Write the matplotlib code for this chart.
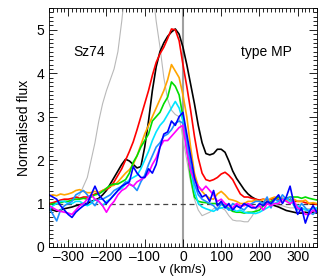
import numpy as np
import matplotlib
matplotlib.use("Agg")
import matplotlib.pyplot as plt
from matplotlib.ticker import MultipleLocator, FuncFormatter

v = list(range(-350, 351, 10))

black = [0.85,0.85,0.82,0.85,0.88,0.9,0.92,0.95,0.97,1.0,1.0,1.05,1.08,1.12,1.2,1.3,1.45,1.6,1.75,1.9,
         2.02,1.98,1.9,1.82,1.85,2.3,2.9,3.6,4.15,4.5,4.7,4.85,4.95,5.02,4.9,4.6,4.2,3.75,3.3,2.8,
         2.4,2.15,2.12,2.15,2.25,2.25,2.18,1.98,1.75,1.58,1.45,1.32,1.22,1.15,1.1,1.06,1.03,1.0,0.98,0.95,
         0.92,0.88,0.84,0.82,0.8,0.78,0.78,0.8,0.78,0.8,0.78]
red = [1.0,1.02,1.05,1.08,1.1,1.1,1.12,1.15,1.12,1.15,1.15,1.18,1.22,1.25,1.3,1.32,1.38,1.5,1.65,1.8,
       2.0,2.2,2.42,2.7,3.0,3.3,3.6,3.95,4.25,4.45,4.6,4.8,5.02,5.0,4.75,4.2,3.7,3.15,2.55,2.05,
       1.7,1.55,1.52,1.55,1.6,1.68,1.72,1.65,1.55,1.38,1.22,1.15,1.15,1.12,1.1,1.08,1.1,1.08,1.1,1.12,
       1.1,1.12,1.1,1.08,1.05,1.05,1.05,1.02,1.0,1.0,0.98]
orange = [1.18,1.2,1.18,1.22,1.2,1.22,1.25,1.3,1.32,1.28,1.25,1.25,1.28,1.25,1.3,1.35,1.4,1.42,1.5,1.6,
          1.7,1.78,1.9,2.1,2.35,2.6,2.8,3.0,3.2,3.4,3.6,3.85,4.2,4.05,3.9,3.5,3.0,2.3,1.7,1.4,
          1.28,1.18,1.12,1.1,1.22,1.28,1.2,1.1,1.08,1.05,1.0,1.0,1.05,1.05,1.08,1.05,1.1,1.05,1.12,1.15,
          1.12,1.1,1.08,1.05,1.1,1.05,1.05,1.08,1.0,1.02,1.0]
green = [0.97,1.0,1.0,1.02,1.05,1.05,1.08,1.1,1.1,1.12,1.1,1.15,1.2,1.22,1.28,1.35,1.42,1.45,1.45,1.5,
         1.55,1.7,1.95,2.1,2.3,2.45,2.6,2.9,3.0,3.1,3.3,3.45,3.8,3.7,3.5,3.0,2.3,1.6,1.15,1.05,
         1.03,1.02,1.0,1.0,1.0,0.98,0.95,0.88,0.82,0.8,0.8,0.78,0.8,0.8,0.82,0.85,0.95,1.0,1.05,1.1,
         1.15,1.1,1.12,1.15,1.15,1.15,1.12,1.15,1.12,1.1,1.08]
cyan = [0.85,0.95,1.0,1.05,1.05,1.0,1.0,1.05,1.05,1.0,0.95,1.0,1.1,1.05,0.95,1.05,1.1,1.2,1.3,1.35,
        1.45,1.55,1.6,1.65,1.8,2.0,2.2,2.45,2.65,2.8,2.9,3.05,3.2,3.35,3.2,2.9,2.4,1.8,1.3,1.0,
        0.92,0.88,0.85,0.82,0.88,0.9,0.92,0.85,0.88,0.82,0.85,0.8,0.78,0.78,0.77,0.8,0.85,0.9,0.95,1.0,
        1.05,1.1,1.12,1.05,1.0,0.95,0.9,0.85,0.85,0.88,0.9]
dodger = [0.9,0.75,0.6,0.85,0.95,1.0,1.05,1.2,1.25,1.3,1.2,1.05,0.95,1.1,1.1,1.15,1.2,1.3,1.35,1.4,
          1.5,1.45,1.4,1.3,1.5,1.65,1.9,2.1,2.3,2.4,2.55,2.6,2.7,2.85,2.9,2.85,2.5,1.9,1.45,1.2,
          1.1,1.05,1.0,0.95,0.85,1.0,0.95,0.85,1.0,0.95,0.9,0.85,0.95,1.0,1.05,1.05,1.0,1.15,0.9,1.1,
          1.05,1.2,1.1,1.15,0.95,0.85,1.0,0.9,0.8,0.75,0.85]
blue = [1.2,1.15,1.1,0.95,0.85,0.75,0.68,0.8,0.88,0.95,1.0,1.2,1.4,1.2,1.1,1.0,1.1,1.2,1.3,1.4,
        1.45,1.5,1.85,1.7,1.6,1.6,1.8,1.7,1.9,2.3,2.6,2.65,2.9,2.8,3.0,3.1,2.6,2.1,1.6,1.3,
        1.15,1.2,1.05,1.3,0.95,1.05,0.9,1.0,0.85,0.95,0.9,1.0,0.95,0.9,0.9,1.0,0.95,1.05,1.0,1.1,
        1.2,1.0,1.15,1.4,1.0,0.75,0.9,0.55,0.8,0.95,0.8]
magenta = [0.95,0.9,0.85,0.82,0.8,0.78,0.75,0.85,0.95,1.0,1.1,1.2,1.1,1.05,0.95,0.8,0.95,1.05,1.2,1.3,
           1.35,1.45,1.4,1.5,1.55,1.6,1.7,1.9,2.05,2.3,2.45,2.45,2.55,2.65,2.75,2.8,2.2,1.75,1.55,1.4,
           1.3,1.4,1.3,1.2,1.05,1.1,1.0,0.95,0.9,1.0,0.95,0.95,1.0,0.95,0.9,0.95,0.85,1.0,0.95,1.0,
           1.0,1.1,1.05,1.0,1.05,0.9,0.85,0.75,0.75,0.85,0.8]
gray = [1.0,1.0,1.0,1.02,1.05,1.05,1.08,1.12,1.2,1.4,1.6,2.0,2.4,2.9,3.3,3.6,3.85,4.1,4.5,5.2,
        6.0,6.5,7.0,7.2,7.2,7.0,6.8,6.0,5.2,4.6,3.9,3.4,3.15,3.05,3.0,2.5,2.0,1.5,1.1,0.85,
        0.72,0.76,0.8,0.88,0.92,0.9,0.85,0.72,0.62,0.6,0.6,0.58,0.58,0.7,0.85,0.92,0.98,1.0,1.0,1.0,
        0.95,0.95,0.92,0.9,0.9,0.92,0.9,0.88,0.88,0.88,0.88]

series = [
    (gray, "#b9b9b9", 0.8),
    (black, "black", 1.2),
    (red, "#ff0000", 1.2),
    (orange, "#ffa500", 1.2),
    (green, "#00dd00", 1.2),
    (cyan, "#00e5ff", 1.2),
    (dodger, "#1e90ff", 1.2),
    (magenta, "#ff00ff", 1.2),
    (blue, "#0000ff", 1.2),
]

plt.rcParams['font.family'] = ['Liberation Sans', 'DejaVu Sans']
fig = plt.figure(figsize=(3.27, 2.8), dpi=100)
ax = fig.add_axes([0.150, 0.118, 0.819, 0.853])

ax.axvline(0, color="#a0a0a0", lw=1.5, zorder=1)
ax.axhline(1, color="#444444", lw=0.9, ls=(0, (4, 3)), zorder=1)
for data, col, lw in series:
    ax.plot(v, data, color=col, lw=lw, zorder=2)

ax.set_xlim(-350, 350)
ax.set_ylim(0, 5.5)
ax.xaxis.set_major_locator(MultipleLocator(100))
ax.xaxis.set_minor_locator(MultipleLocator(10))
ax.yaxis.set_major_locator(MultipleLocator(1))
ax.yaxis.set_minor_locator(MultipleLocator(0.1))
ax.tick_params(which="both", direction="in", top=True, right=True, labelsize=10, width=0.6)
ax.tick_params(axis="x", which="both", pad=2)
ax.tick_params(which="major", length=6)
ax.tick_params(which="minor", length=3)
ax.xaxis.set_major_formatter(FuncFormatter(lambda x, p: f"{int(round(x))}".replace("-", "\u2013")))
for s in ax.spines.values():
    s.set_linewidth(0.6)
ax.set_xlabel("v (km/s)", fontsize=9.5, labelpad=0)
ax.set_ylabel("Normalised flux", fontsize=10, labelpad=4)
ax.text(-245, 4.5, "Sz74", fontsize=10, ha="center", va="center")
ax.text(217, 4.5, "type MP", fontsize=10, ha="center", va="center")

fig.savefig("out.png", dpi=100)
